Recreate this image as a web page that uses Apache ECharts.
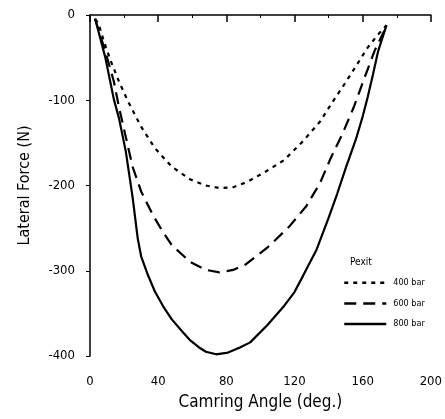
<!DOCTYPE html>
<html>
<head>
<meta charset="utf-8">
<script src="https://cdn.jsdelivr.net/npm/echarts@6/dist/echarts.min.js"></script>
<style>
  html, body { margin: 0; padding: 0; background: #fff; }
  #chart { width: 445px; height: 419px; }
</style>
</head>
<body>
<div id="chart"></div>
<script>
const FONT = '"Liberation Sans Narrow", "DejaVu Sans Condensed", "Liberation Sans", sans-serif';

// camring angle (deg.) / lateral force (N)
const bar400 = [
  [3, -5], [5, -10], [8, -30], [12, -53], [17, -78], [22, -100], [30, -131],
  [38, -156], [48, -178], [59, -193], [68, -200], [76, -203], [84, -202],
  [92, -196], [102, -185], [114, -170], [125, -148], [135, -125], [142, -103],
  [150, -79], [157, -57], [163, -38], [169, -23], [174, -12]
];
const bar600 = [
  [3, -5], [7, -30], [10, -50], [14, -78], [17, -108], [21, -143], [25, -178],
  [30, -207], [37, -235], [42, -252], [48, -270], [59, -290], [68, -299],
  [76, -302], [84, -299], [91, -293], [104, -273], [117, -248], [127, -224],
  [135, -197], [141, -169], [148, -140], [155, -107], [161, -74], [167, -42],
  [174, -13]
];
const bar800 = [
  [3, -4], [9, -50], [14, -99], [17, -121], [21, -160], [25, -214],
  [28, -262], [30, -283], [34, -305], [38, -324], [43, -342], [48, -357],
  [54, -371], [59, -382], [64, -390], [68, -395], [74, -398], [81, -396],
  [88, -390], [94, -384], [104, -364], [114, -341], [120, -325], [125, -306],
  [133, -275], [140, -238], [145, -210], [150, -180], [156, -146], [160, -119],
  [163, -96], [166, -70], [169, -43], [174, -12]
];
const seriesNames = ['400 bar', '600 bar', '800 bar'];

const chart = echarts.init(document.getElementById('chart'));

const lineSeries = (name, data, type) => ({
  name: name,
  type: 'line',
  data: data,
  showSymbol: false,
  symbol: 'none',
  smooth: false,
  lineStyle: { color: '#000', width: 2.2, type: type },
  itemStyle: { color: '#000' }
});

chart.setOption({
  animation: false,
  textStyle: { fontFamily: FONT, color: '#000' },
  grid: { left: 90, right: 8, top: 15, bottom: 63 },
  xAxis: {
    type: 'value',
    min: 0, max: 200, interval: 40,
    name: 'Camring Angle (deg.)',
    nameLocation: 'middle',
    nameGap: 38,
    nameTextStyle: { fontSize: 17, color: '#000', fontFamily: FONT },
    axisLine: { lineStyle: { color: '#000', width: 1.5 } },
    axisTick: { show: true, length: 7, lineStyle: { color: '#000', width: 1.5 } },
    minorTick: { show: true, splitNumber: 2, length: 3, lineStyle: { color: '#000' } },
    axisLabel: { fontSize: 13, color: '#000', margin: 19, fontFamily: FONT },
    splitLine: { show: false }
  },
  yAxis: {
    type: 'value',
    min: -400, max: 0, interval: 100,
    name: 'Lateral Force (N)',
    nameLocation: 'middle',
    nameGap: 57,
    nameTextStyle: { fontSize: 16, color: '#000', fontFamily: FONT },
    axisLine: { show: true, onZero: false, lineStyle: { color: '#000', width: 1.5 } },
    axisTick: { show: true, length: 4, lineStyle: { color: '#000' } },
    axisLabel: {
      fontSize: 13, color: '#000', margin: 15, fontFamily: FONT,
      formatter: (v) => (v < 0 ? '-' + Math.abs(v) : String(v))
    },
    splitLine: { show: false }
  },
  legend: {
    data: seriesNames,
    orient: 'vertical',
    left: 338,
    top: 273,
    itemWidth: 42,
    itemHeight: 12,
    itemGap: 11,
    itemStyle: { opacity: 0 },
    lineStyle: { width: 2.5 },
    textStyle: { fontSize: 9, color: '#000', fontFamily: FONT, padding: [0, 0, 0, 2] }
  },
  graphic: [{
    type: 'text',
    left: 350,
    top: 257,
    style: { text: 'Pexit', fontSize: 10, fill: '#000', fontFamily: FONT }
  }],
  series: [
    lineSeries(seriesNames[0], bar400, [4, 5]),
    lineSeries(seriesNames[1], bar600, [12, 7]),
    lineSeries(seriesNames[2], bar800, 'solid')
  ]
});
</script>
</body>
</html>
